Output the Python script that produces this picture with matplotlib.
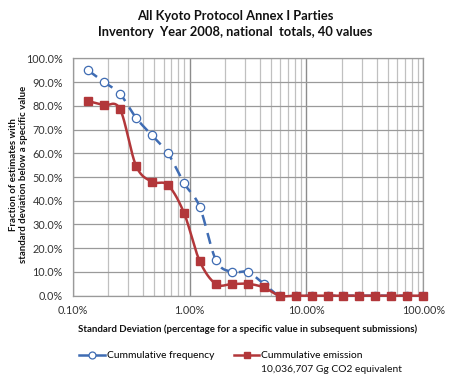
import numpy as np
import matplotlib
matplotlib.use("Agg")
import matplotlib.pyplot as plt
from matplotlib.ticker import FixedLocator, FuncFormatter, NullFormatter
from matplotlib.lines import Line2D

plt.rcParams['font.family'] = ['Lato', 'DejaVu Sans']

# ---- data ----
std_dev_pct = [0.135, 0.185, 0.254, 0.348, 0.477, 0.653, 0.894, 1.22, 1.68, 2.30,
               3.15, 4.31, 5.90, 8.08, 11.1, 15.2, 20.7, 28.4, 38.9, 53.3, 73.0, 100.0]
cum_frequency = [95.0, 90.0, 85.0, 75.0, 67.5, 60.0, 47.5, 37.5, 15.0, 10.0,
                 10.0, 5.0, 0, 0, 0, 0, 0, 0, 0, 0, 0, 0]
cum_emission = [82.0, 80.3, 78.6, 54.8, 48.0, 46.6, 35.0, 14.6, 4.9, 4.9,
                5.0, 3.5, 0, 0, 0, 0, 0, 0, 0, 0, 0, 0]
x_tick_values = [0.1, 1.0, 10.0, 100.0]
x_tick_labels = ["0.10%", "1.00%", "10.00%", "100.00%"]
y_tick_values = [0, 10, 20, 30, 40, 50, 60, 70, 80, 90, 100]

title = "All Kyoto Protocol Annex I Parties\nInventory  Year 2008, national  totals, 40 values"
xlabel = "Standard Deviation (percentage for a specific value in subsequent submissions)"
ylabel = "Fraction of estimates with\nstandard deviation below a specific value"
label_freq = "Cummulative frequency"
label_emis = "Cummulative emission"
label_emis2 = "10,036,707 Gg CO2 equivalent"

BLUE = "#3F6CB3"
RED = "#B2373A"


def smooth(xs, ys, n=24):
    """Excel-like smoothed line (Catmull-Rom Bezier) in log-x space."""
    lx = np.log10(np.asarray(xs, float))
    y = np.asarray(ys, float)
    P = np.column_stack([lx, y])
    out = []
    m = len(P)
    t = np.linspace(0, 1, n)[:, None]
    for i in range(m - 1):
        p0 = P[i - 1] if i > 0 else P[i]
        p1 = P[i]
        p2 = P[i + 1]
        p3 = P[i + 2] if i + 2 < m else P[i + 1]
        c1 = p1 + (p2 - p0) / 6.0
        c2 = p2 - (p3 - p1) / 6.0
        seg = ((1 - t) ** 3) * p1 + 3 * ((1 - t) ** 2) * t * c1 + 3 * (1 - t) * t ** 2 * c2 + t ** 3 * p2
        out.append(seg if i == 0 else seg[1:])
    S = np.vstack(out)
    return 10 ** S[:, 0], S[:, 1]


fig = plt.figure(figsize=(4.70, 3.84), dpi=100)
ax = fig.add_axes([0.1547, 0.230, 0.7459, 0.618])

ax.set_xscale('log')
ax.set_xlim(0.1, 100)
ax.set_ylim(0, 100)

# grid
ax.xaxis.set_major_locator(FixedLocator(x_tick_values))
minor = [m * d for d in (0.1, 1.0, 10.0) for m in range(2, 10)]
ax.xaxis.set_minor_locator(FixedLocator(minor))
ax.xaxis.set_minor_formatter(NullFormatter())
ax.xaxis.set_major_formatter(FuncFormatter(
    lambda v, p: x_tick_labels[x_tick_values.index(v)] if v in x_tick_values else ""))
ax.yaxis.set_major_locator(FixedLocator(y_tick_values))
ax.yaxis.set_major_formatter(FuncFormatter(lambda v, p: f"{v:.1f}%"))

ax.grid(True, which='major', axis='x', color='#8C8C8C', linewidth=1.0)
ax.grid(True, which='minor', axis='x', color='#C0C0C0', linewidth=0.9)
ax.grid(True, which='major', axis='y', color='#9A9A9A', linewidth=0.9)
ax.set_axisbelow(True)
for s in ax.spines.values():
    s.set_color('#9A9A9A')
    s.set_linewidth(0.9)

ax.tick_params(axis='both', which='both', length=0, labelsize=7.8, colors='#333333')
ax.tick_params(axis='y', pad=7)
ax.tick_params(axis='x', pad=7)

# series
sx, sy = smooth(std_dev_pct, cum_frequency)
ax.plot(sx, sy, color=BLUE, linewidth=1.8, dashes=(4.5, 3.0), zorder=3)
ax.plot(std_dev_pct, cum_frequency, linestyle='none', marker='o', markersize=6,
        markerfacecolor='white', markeredgecolor=BLUE, markeredgewidth=0.9, zorder=4)

rx, ry = smooth(std_dev_pct, cum_emission)
ax.plot(rx, ry, color=RED, linewidth=1.8, zorder=5, clip_on=False)
ax.plot(std_dev_pct, cum_emission, linestyle='none', marker='s', markersize=6,
        markerfacecolor=RED, markeredgecolor=RED, zorder=6, clip_on=False)

# texts
fig.text(0.5, 1 - 24 / 384, title, ha='center', va='center', fontsize=9.3,
         fontweight='bold', linespacing=1.45, color='#111111')
ax.set_xlabel(xlabel, fontsize=6.9, fontweight='bold', labelpad=6, color='#111111')
fig.text(0.040, 0.545, ylabel, rotation=90, ha='center', va='center', fontsize=6.9,
         fontweight='bold', linespacing=1.2, color='#111111')

# legend
h1 = Line2D([], [], color=BLUE, linewidth=1.8, marker='o', markersize=5,
            markerfacecolor='white', markeredgecolor=BLUE, markeredgewidth=0.9)
h2 = Line2D([], [], color=RED, linewidth=1.8, marker='s', markersize=5,
            markerfacecolor=RED, markeredgecolor=RED)
leg = fig.legend([h1, h2], [label_freq, label_emis], ncol=2, loc='upper left',
                 bbox_to_anchor=(79 / 470, 1 - 351 / 384), frameon=False, fontsize=7.4,
                 handlelength=2.5, handletextpad=0.2, columnspacing=1.9,
                 borderaxespad=0, borderpad=0)
fig.canvas.draw()
r = fig.canvas.get_renderer()
bb = leg.get_texts()[1].get_window_extent(r)
fig.text(bb.x0 / fig.bbox.width, (bb.y0 - 5) / fig.bbox.height, label_emis2,
         ha='left', va='top', fontsize=7.4, color='#111111')

fig.savefig("out.png", dpi=100)
